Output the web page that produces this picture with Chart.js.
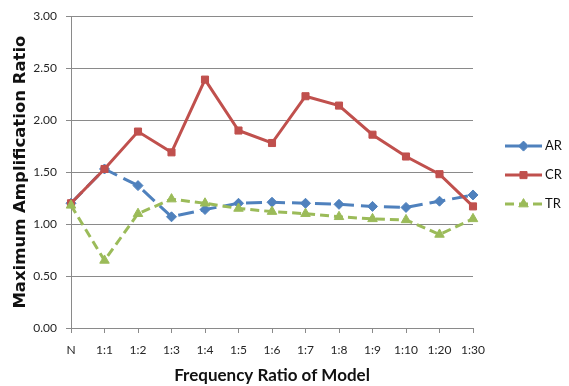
<!DOCTYPE html>
<html>
<head>
<meta charset="utf-8">
<script src="https://cdn.jsdelivr.net/npm/chart.js@4.4.1/dist/chart.umd.min.js"></script>
<style>
  html,body{margin:0;padding:0;background:#fff;}
  canvas{display:block;}
</style>
</head>
<body>
<canvas id="amp" width="569" height="386"></canvas>
<script>
// model frequency ratios along the x axis
const ratios=['N','1:1','1:2','1:3','1:4','1:5','1:6','1:7','1:8','1:9','1:10','1:20','1:30'];
// maximum amplification ratio per series
const arVals=[1.20,1.53,1.37,1.07,1.14,1.20,1.21,1.20,1.19,1.17,1.16,1.22,1.28];
const crVals=[1.20,1.53,1.89,1.69,2.39,1.90,1.78,2.23,2.14,1.86,1.65,1.48,1.17];
const trVals=[1.18,0.65,1.10,1.24,1.20,1.15,1.12,1.10,1.07,1.05,1.04,0.90,1.05];
const seriesNames=['AR','CR','TR'];
const yTicks=[0,0.5,1,1.5,2,2.5,3];

const GRID='#8a8a8a';

// legend on the right: dashed line segment with the marker in the middle
const sideLegend={
  id:'sideLegend',
  afterDraw(chart){
    const ctx=chart.ctx, ca=chart.chartArea;
    const x0=ca.right+32, x1=ca.right+69, midY=(ca.top+ca.bottom)/2;
    chart.data.datasets.forEach((ds,i)=>{
      const y=midY+3+(i-1)*29;
      ctx.save();
      ctx.strokeStyle=ds.borderColor; ctx.lineWidth=ds.borderWidth;
      ctx.setLineDash(ds.borderDash||[]);
      ctx.beginPath(); ctx.moveTo(x0,y); ctx.lineTo(x1,y); ctx.stroke();
      ctx.setLineDash([]);
      ctx.fillStyle=ds.pointBackgroundColor; ctx.strokeStyle=ds.borderColor; ctx.lineWidth=1;
      Chart.helpers.drawPoint(ctx,{pointStyle:ds.pointStyle,radius:ds.pointRadius,borderWidth:1,rotation:0},(x0+x1)/2,y);
      ctx.fillStyle='#111'; ctx.font='13px Lato'; ctx.textAlign='left'; ctx.textBaseline='middle';
      ctx.fillText(ds.label,x1+3,y);
      ctx.restore();
    });
  }
};

Chart.defaults.font.family='Lato';
Chart.defaults.color='#262626';

new Chart(document.getElementById('amp'),{
  type:'line',
  data:{
    labels:ratios,
    datasets:[
      {label:seriesNames[0],data:arVals,borderColor:'#4f81bd',pointBackgroundColor:'#4f81bd',
       borderWidth:3,borderDash:[16,7],pointStyle:'rectRot',pointRadius:5,pointBorderWidth:1,order:2},
      {label:seriesNames[1],data:crVals,borderColor:'#c0504d',pointBackgroundColor:'#c0504d',
       borderWidth:3,pointStyle:'rect',pointRadius:5,pointBorderWidth:1,order:1},
      {label:seriesNames[2],data:trVals,borderColor:'#9bbb59',pointBackgroundColor:'#9bbb59',
       borderWidth:3,borderDash:[9,5],pointStyle:'triangle',pointRadius:5.5,pointBorderWidth:1,order:0},
    ]
  },
  options:{
    responsive:false,animation:false,
    layout:{padding:{left:0,right:96,top:14,bottom:0}},
    elements:{line:{tension:0},point:{hoverRadius:5}},
    datasets:{line:{clip:false}},
    plugins:{legend:{display:false},tooltip:{enabled:false}},
    scales:{
      x:{
        offset:false,
        afterFit:s=>{s.height=58;},
        grid:{drawOnChartArea:false,drawTicks:true,tickLength:5,color:GRID},
        border:{display:true,color:GRID,width:1},
        ticks:{padding:10,font:{size:12},maxRotation:0,autoSkip:false},
        title:{display:true,text:'Frequency Ratio of Model',color:'#111',
               font:{size:17,weight:'bold'},padding:{top:0,bottom:0}}
      },
      y:{
        min:0,max:3,
        afterFit:s=>{s.width=71;},
        afterBuildTicks:s=>{s.ticks=yTicks.map(v=>({value:v}));},
        grid:{color:GRID,tickLength:5,drawTicks:true},
        border:{display:true,color:GRID,width:1},
        ticks:{padding:9,font:{size:12},callback:v=>Number(v).toFixed(2)},
        title:{display:true,text:'Maximum Amplification Ratio',color:'#111',
               font:{family:'DejaVu Sans',size:16.5,weight:'bold'},padding:{top:11,bottom:0}}
      }
    }
  },
  plugins:[sideLegend]
});
</script>
</body>
</html>
